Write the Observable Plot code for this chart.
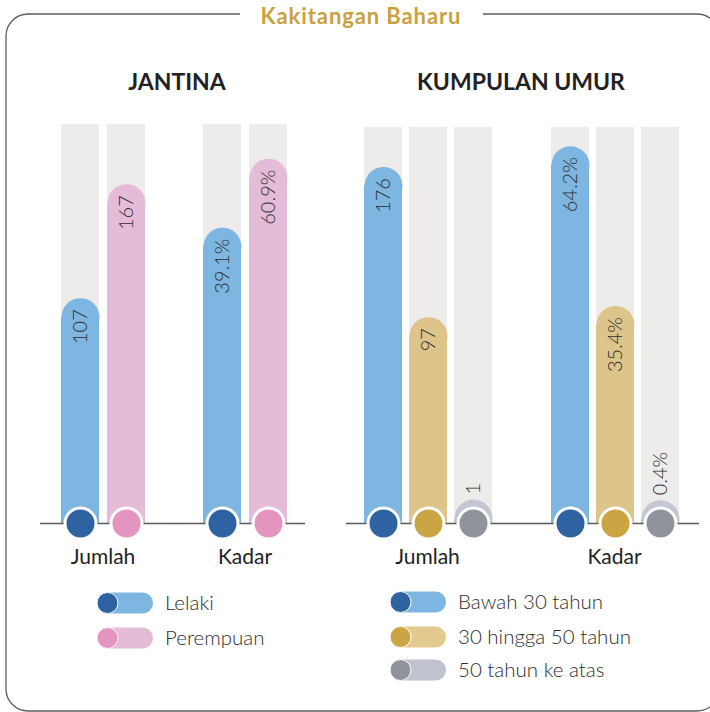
<!DOCTYPE html>
<html><head><meta charset="utf-8">
<script src="https://cdn.jsdelivr.net/npm/d3@7"></script>
<script src="https://cdn.jsdelivr.net/npm/@observablehq/plot@0.6"></script>
<style>
body{margin:0;background:#fff;}
#page{position:relative;width:710px;height:712px;overflow:hidden;font-family:Lato,"Open Sans",sans-serif;}
#page > svg.deco{position:absolute;left:0;top:0;}
.plot{position:absolute;top:100px;}
</style></head><body><div id="page"></div>
<script>
// ---- data ----
const chartTitle = "Kakitangan Baharu";
const panelTitles = ["JANTINA", "KUMPULAN UMUR"];
const groupLabels = ["Jumlah", "Kadar"];
const genderSeries = ["Lelaki", "Perempuan"];
const genderCount = [107, 167];
const genderPct = [39.1, 60.9];
const ageSeries = ["Bawah 30 tahun", "30 hingga 50 tahun", "50 tahun ke atas"];
const ageCount = [176, 97, 1];
const agePct = [64.2, 35.4, 0.4];

// ---- styles ----
const barLight = {"Lelaki": "#7db6e1", "Perempuan": "#e5bcd8", "Bawah 30 tahun": "#7db6e1", "30 hingga 50 tahun": "#dcc48a", "50 tahun ke atas": "#c4c6d4"};
const pillLight = {"Lelaki": "#7db6e1", "Perempuan": "#e5bcd8", "Bawah 30 tahun": "#7db6e1", "30 hingga 50 tahun": "#e3ca91", "50 tahun ke atas": "#c0c2d0"};
const dotDark = {"Lelaki": "#2f62a0", "Perempuan": "#e395c0", "Bawah 30 tahun": "#2f62a0", "30 hingga 50 tahun": "#cba443", "50 tahun ke atas": "#8e939c"};
const trackColor = "#edeceb";
const FONT = "Lato, 'Open Sans', sans-serif";
const smallMax = 5; // values below this get their label above the bar

const page = document.getElementById("page");
const NS = "http://www.w3.org/2000/svg";
const deco = document.createElementNS(NS, "svg");
deco.setAttribute("class", "deco");
deco.setAttribute("width", 710); deco.setAttribute("height", 712);
page.appendChild(deco);
function el(tag, attrs, text) {
  const e = document.createElementNS(NS, tag);
  for (const k in attrs) e.setAttribute(k, attrs[k]);
  if (text != null) e.textContent = text;
  deco.appendChild(e);
  return e;
}
// frame with gap for title
el("path", {d: "M240 14 H28 A22 22 0 0 0 6 36 V689 A22 22 0 0 0 28 711 H697 A22 22 0 0 0 719 689 V36 A22 22 0 0 0 697 14 H483", fill: "none", stroke: "#5c5c5c", "stroke-width": 1.3});
el("text", {x: 361, y: 24, "text-anchor": "middle", "font-family": FONT, "font-weight": 700, "font-size": 22, "letter-spacing": 0.9, fill: "#c9a23f"}, chartTitle);
el("text", {x: 177, y: 90, "text-anchor": "middle", "font-family": FONT, "font-weight": 700, "font-size": 23, fill: "#222"}, panelTitles[0]);
el("text", {x: 521, y: 90, "text-anchor": "middle", "font-family": FONT, "font-weight": 700, "font-size": 23, fill: "#222"}, panelTitles[1]);

function groupPlot({series, values, fmt, domain, left, width, range, inner, marginTop, label}) {
  const data = series.map((s, i) => ({s, v: values[i]}));
  const [d0, d1] = domain;
  const plot = Plot.plot({
    width, height: 480, marginTop, marginBottom: 57, marginLeft: 0, marginRight: 0,
    x: {domain: series, range, paddingInner: inner, paddingOuter: 0, axis: null},
    y: {domain, axis: null},
    color: {type: "identity"},
    style: {background: "transparent", overflow: "visible", fontFamily: FONT},
    marks: [
      Plot.barY(series, {x: d => d, y1: d0, y2: d1, fill: trackColor}),
      Plot.barY(data, {x: "s", y1: d0, y2: "v", fill: d => barLight[d.s], insetTop: 19, clip: "frame"}),
      Plot.dot(data, {x: "s", y: "v", dy: 19, r: 19, fill: d => barLight[d.s], clip: "frame"}),
      Plot.ruleY([d0], {stroke: "#5a5a5a", strokeWidth: 1.3}),
      Plot.dot(data, {x: "s", y: d0, r: 15.5, fill: d => dotDark[d.s], stroke: "#fff", strokeWidth: 3}),
      Plot.text(data.filter(d => d.v >= smallMax), {x: "s", y: "v", text: d => fmt(d.v), rotate: -90, textAnchor: "end", lineAnchor: "middle", dy: 11, fontSize: 20, fontWeight: 300, fill: "#2e2e2e"}),
      Plot.text(data.filter(d => d.v < smallMax), {x: "s", y: "v", text: d => fmt(d.v), rotate: -90, textAnchor: "start", lineAnchor: "middle", dy: -5, fontSize: 20, fontWeight: 300, fill: "#2e2e2e"})
    ]
  });
  const wrap = document.createElement("div");
  wrap.className = "plot";
  wrap.style.left = left + "px";
  wrap.appendChild(plot);
  page.appendChild(wrap);
  el("text", {x: left + (range[0] + range[1]) / 2, y: 564, "text-anchor": "middle", "font-family": FONT, "font-size": 21, fill: "#222"}, label);
}

const fmtCount = v => String(v);
const fmtPct = v => v.toFixed(1) + "%";

groupPlot({series: genderSeries, values: genderCount, fmt: fmtCount, domain: [-11.58, 198.4], left: 40, width: 134, range: [21, 105], inner: 8 / 46, marginTop: 24, label: groupLabels[0]});
groupPlot({series: genderSeries, values: genderPct, fmt: fmtPct, domain: [-54.4, 71.7], left: 174, width: 131, range: [29, 113], inner: 8 / 46, marginTop: 24, label: groupLabels[1]});
groupPlot({series: ageSeries, values: ageCount, fmt: fmtCount, domain: [-11.58, 196.8], left: 346, width: 175, range: [17, 146], inner: 7.5 / 45.5, marginTop: 27, label: groupLabels[0]});
groupPlot({series: ageSeries, values: agePct, fmt: fmtPct, domain: [-3.78, 67.57], left: 521, width: 178, range: [29, 158], inner: 7.5 / 45.5, marginTop: 27, label: groupLabels[1]});

// legends
function legend(series, x, ys) {
  series.forEach((s, i) => {
    const cy = ys[i];
    el("rect", {x: x, y: cy - 10.5, width: 56, height: 21, rx: 10.5, fill: pillLight[s]});
    el("circle", {cx: x + 10.5, cy, r: 10.5, fill: dotDark[s], stroke: "#fff", "stroke-width": 1});
    el("text", {x: x + 68, y: cy + 7, "font-family": FONT, "font-size": 20.5, "font-weight": 300, fill: "#2e2e2e"}, s);
  });
}
legend(genderSeries, 97, [603, 638]);
legend(ageSeries, 390, [602, 637, 670]);
</script></body></html>
